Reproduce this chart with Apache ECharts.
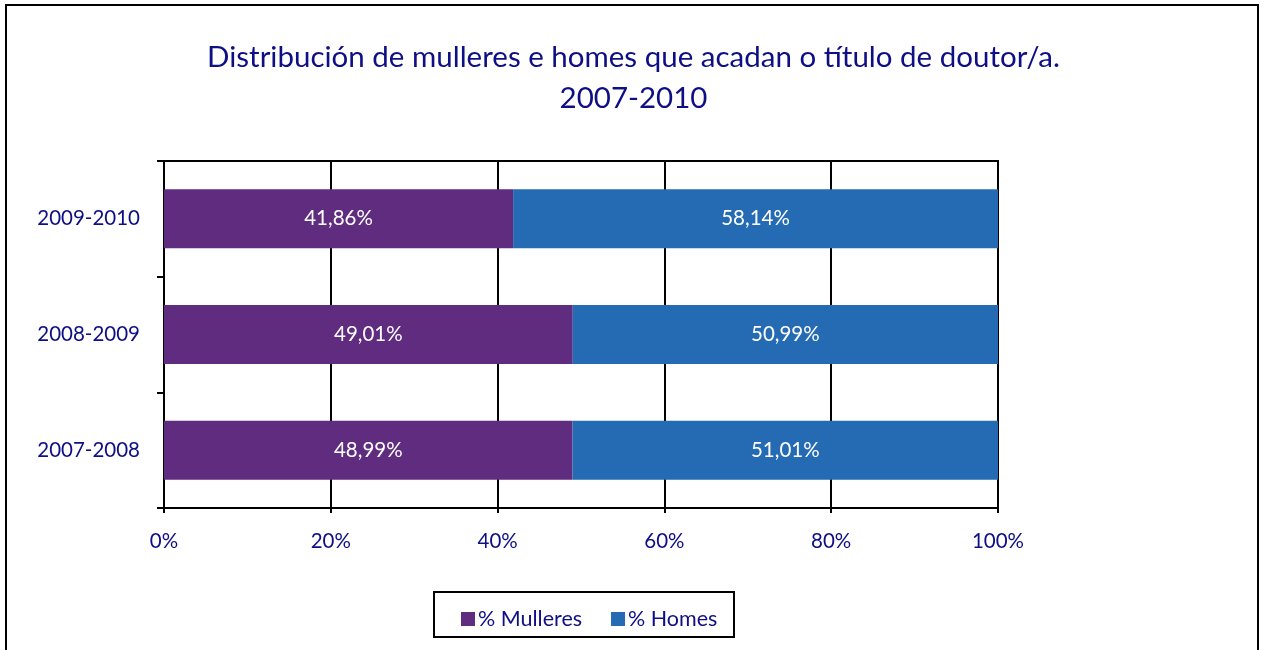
<!DOCTYPE html>
<html>
<head>
<meta charset="utf-8">
<script src="https://cdn.jsdelivr.net/npm/echarts@6/dist/echarts.min.js"></script>
<style>
  html, body { margin: 0; padding: 0; background: #fff; }
  #chart { width: 1267px; height: 650px; }
</style>
</head>
<body>
<div id="chart"></div>
<script>
// datos
var anos = ["2007-2008", "2008-2009", "2009-2010"];
var mulleres = [48.99, 49.01, 41.86];
var homes = [51.01, 50.99, 58.14];
var xTicks = [0, 20, 40, 60, 80, 100];

var navy = "#0e0e85";
var fonte = "Lato";

function pct(v) {
  return v.toFixed(2).replace(".", ",") + "%";
}

var chart = echarts.init(document.getElementById("chart"));

var option = {
  animation: false,
  textStyle: { fontFamily: fonte },
  title: {
    text: "Distribución de mulleres e homes que acadan o título de doutor/a.\n2007-2010",
    left: "center",
    top: 32,
    padding: [5, 18, 5, 5],
    textStyle: {
      color: navy,
      fontFamily: fonte,
      fontWeight: "normal",
      fontSize: 29.5,
      lineHeight: 41
    }
  },
  graphic: [
    {
      type: "rect",
      shape: { x: 6, y: 5, width: 1252, height: 700 },
      style: { fill: "none", stroke: "#000", lineWidth: 2 },
      silent: true
    },
    {
      type: "rect",
      shape: { x: 434, y: 592, width: 300, height: 45 },
      style: { fill: "none", stroke: "#000", lineWidth: 2 },
      silent: true
    }
  ],
  legend: {
    left: 456,
    top: 603,
    itemWidth: 14,
    itemHeight: 14,
    itemGap: 29,
    icon: "rect",
    textStyle: { color: navy, fontSize: 21.5, fontFamily: fonte, padding: [0, 0, 0, -2] },
    data: ["% Mulleres", "% Homes"]
  },
  grid: {
    left: 164,
    right: 269,
    top: 161,
    bottom: 142,
    show: true,
    borderColor: "#000",
    borderWidth: 2,
    containLabel: false
  },
  xAxis: {
    type: "value",
    min: 0,
    max: 100,
    interval: 20,
    axisLine: { show: true, lineStyle: { color: "#000", width: 2 } },
    axisTick: { show: true, length: 5, lineStyle: { color: "#000", width: 2 } },
    splitLine: { show: true, lineStyle: { color: "#000", width: 2 } },
    axisLabel: {
      color: navy,
      fontSize: 20.5,
      margin: 23,
      formatter: function (v) { return xTicks.indexOf(v) >= 0 ? v + "%" : ""; }
    }
  },
  yAxis: {
    type: "category",
    data: anos,
    axisLine: { show: true, lineStyle: { color: "#000", width: 2 } },
    axisTick: { show: true, length: 7, lineStyle: { color: "#000", width: 2 } },
    axisLabel: { color: navy, fontSize: 20.5, margin: 24 }
  },
  series: [
    {
      name: "% Mulleres",
      type: "bar",
      stack: "total",
      barWidth: "51%",
      data: mulleres,
      itemStyle: { color: "#5f2c7f" },
      label: {
        show: true,
        position: "inside",
        color: "#fff",
        fontSize: 20.5,
        fontFamily: fonte,
        formatter: function (p) { return pct(p.value); }
      }
    },
    {
      name: "% Homes",
      type: "bar",
      stack: "total",
      barWidth: "51%",
      data: homes,
      itemStyle: { color: "#246bb3" },
      label: {
        show: true,
        position: "inside",
        color: "#fff",
        fontSize: 20.5,
        fontFamily: fonte,
        formatter: function (p) { return pct(p.value); }
      }
    }
  ]
};

chart.setOption(option);
</script>
</body>
</html>
